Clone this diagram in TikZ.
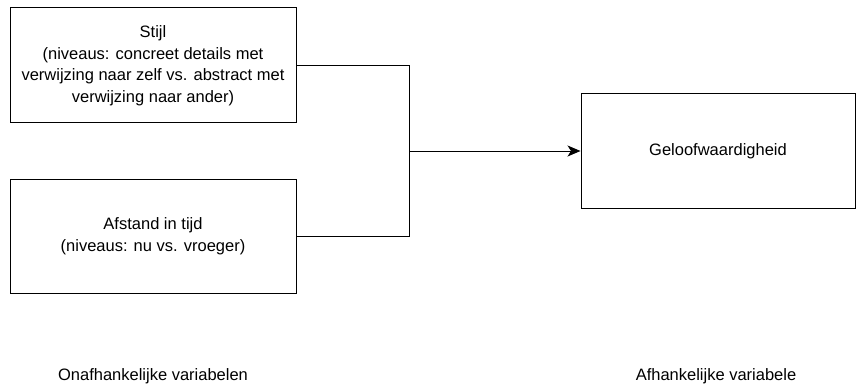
\documentclass[tikz,border=0pt]{standalone}
\usepackage{fontspec}
\setmainfont{Liberation Sans}
\usetikzlibrary{arrows.meta}

\tikzset{
  varbox/.style={draw, line width=1pt, align=center, inner sep=0pt,
    font=\fontsize{16.5}{21.5}\selectfont},
  varlabel/.style={font=\fontsize{16.5}{21.5}\selectfont}
}

\begin{document}
\begin{tikzpicture}[x=1pt, y=-1pt]
\useasboundingbox (0,0) rectangle (856,385);

%ONAFHANKELIJKE VARIABELEN (links)
\node [varbox, minimum width=286pt, minimum height=115pt] (stijl) at (153,65.5)
  {Stijl\\(niveaus: concreet details met\\verwijzing naar zelf vs. abstract met\\verwijzing naar ander)};
\node [varbox, minimum width=286pt, minimum height=114pt] (afstand) at (153,236)
  {Afstand in tijd\\(niveaus: nu vs. vroeger)};

%AFHANKELIJKE VARIABELE (rechts)
\node [varbox, minimum width=274pt, minimum height=114pt] (geloof) at (718,151)
  {Geloofwaardigheid};

%VERBINDINGEN
\coordinate (split) at (409,151);
\draw [line width=1pt] (stijl.east) -| (split);
\draw [line width=1pt] (afstand.east) -| (split);
\draw [line width=1pt, -{Stealth[length=13pt,width=11pt,inset=3.5pt]}] (split) -- (geloof.west);

%ONDERSCHRIFTEN
\node [varlabel] (onaf) at (153,376) {Onafhankelijke variabelen};
\node [varlabel] (afh) at (716,376) {Afhankelijke variabele};

\end{tikzpicture}
\end{document}
